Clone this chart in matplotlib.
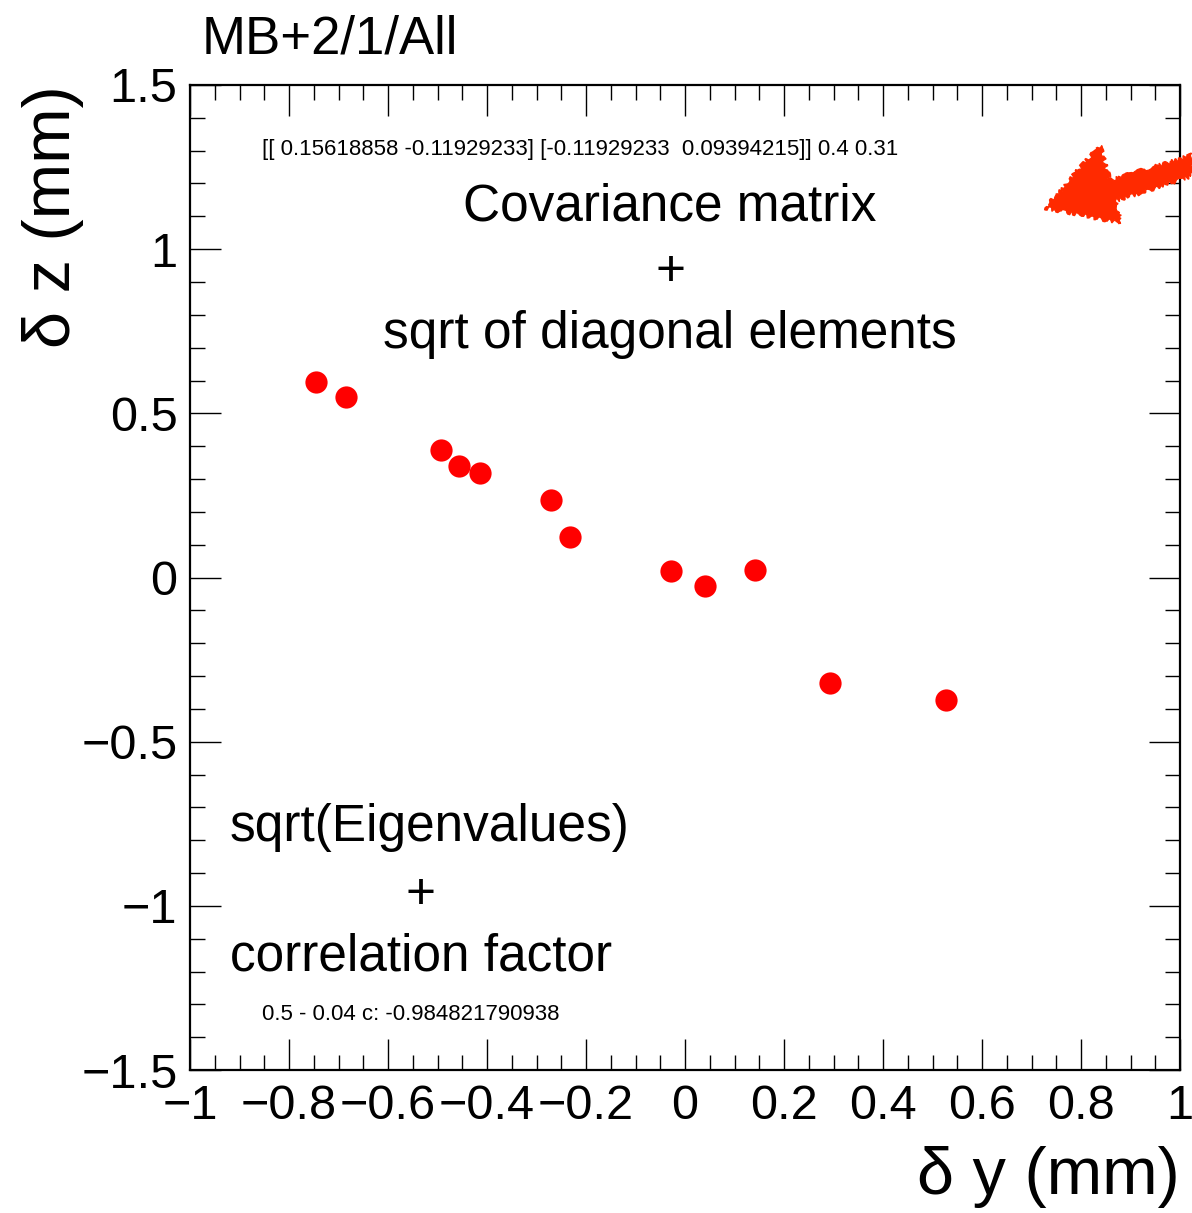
#!/usr/bin/env python

# Residual scatter dz vs dy with covariance notes (ROOT-like style).

import matplotlib
matplotlib.use('Agg')
import matplotlib.pyplot as plt
import matplotlib.patches
from matplotlib.ticker import MultipleLocator, FuncFormatter

# Residuals
dy = [-0.745, -0.685, -0.493, -0.457, -0.414, -0.271, -0.232,
      -0.028, 0.040, 0.141, 0.293, 0.527]
dz = [0.594, 0.549, 0.387, 0.341, 0.317, 0.235, 0.122,
      0.021, -0.027, 0.024, -0.320, -0.372]

title = "MB+2/1/All"
cov_text = "[[ 0.15618858 -0.11929233] [-0.11929233  0.09394215]] 0.4 0.31"
eig_text = "0.5 - 0.04 c: -0.984821790938"

plt.rcParams['font.family'] = ['Liberation Sans', 'DejaVu Sans']

W, H = 1192, 1213
fig = plt.figure(figsize=(W/100., H/100.), dpi=100)
ax = fig.add_axes([190./W, 1-1070./H, 990./W, 985./H])

ax.plot(dy, dz, 'o', color=(1, 0, 0), markersize=16, markeredgewidth=0)

ax.set_xlim(-1, 1)
ax.set_ylim(-1.5, 1.5)
ax.xaxis.set_major_locator(MultipleLocator(0.2))
ax.xaxis.set_minor_locator(MultipleLocator(0.05))
ax.yaxis.set_major_locator(MultipleLocator(0.5))
ax.yaxis.set_minor_locator(MultipleLocator(0.1))


def fmt(v, pos):
    s = ('%.1f' % v).rstrip('0').rstrip('.')
    if s == '-0':
        s = '0'
    return s.replace('-', '\u2212')


ax.xaxis.set_major_formatter(FuncFormatter(fmt))
ax.yaxis.set_major_formatter(FuncFormatter(fmt))
ax.tick_params(which='both', direction='in', top=True, right=True,
               width=1.0, labelsize=35, pad=9)
ax.tick_params(which='major', length=22)
ax.tick_params(which='minor', length=11)
ax.tick_params(axis='x', which='major', pad=10)
for sp in ax.spines.values():
    sp.set_linewidth(1.6)

ax.set_xlabel('\u03b4 y (mm)', fontsize=48, loc='right', labelpad=12)
ax.set_ylabel('\u03b4 z (mm)', fontsize=48, loc='top', labelpad=-2)

fig.text(202./W, 1-40./H, title, fontsize=38, va='center', ha='left')

# Annotations
fig.text(262./W, 1-150./H, cov_text, fontsize=16, va='center', ha='left')
fig.text(670./W, 1-207./H, 'Covariance matrix', fontsize=37,
         va='center', ha='center')
fig.text(670./W, 1-273./H, '+', fontsize=37, va='center', ha='center')
fig.text(670./W, 1-335./H, 'sqrt of diagonal elements', fontsize=37,
         va='center', ha='center')

fig.text(230./W, 1-828./H, 'sqrt(Eigenvalues)', fontsize=37,
         va='center', ha='left')
fig.text(421./W, 1-895./H, '+', fontsize=37, va='center', ha='center')
fig.text(230./W, 1-957./H, 'correlation factor', fontsize=37,
         va='center', ha='left')
fig.text(262./W, 1-1015./H, eig_text, fontsize=16, va='center', ha='left')

# Hand drawn red arrow pointing at the covariance text
arrow_px = [(1045, 208), (1100, 145), (1110, 180), (1192, 155),
            (1192, 176), (1116, 201), (1122, 223)]
arrow = matplotlib.patches.Polygon([(x/W, 1-y/H) for x, y in arrow_px],
                                   closed=True, facecolor='#ff2a00',
                                   edgecolor='#ff2a00', linewidth=1,
                                   transform=fig.transFigure, clip_on=False)
arrow.set_sketch_params(scale=2, length=15, randomness=10)
fig.patches.append(arrow)

fig.savefig('out.png', dpi=100)
